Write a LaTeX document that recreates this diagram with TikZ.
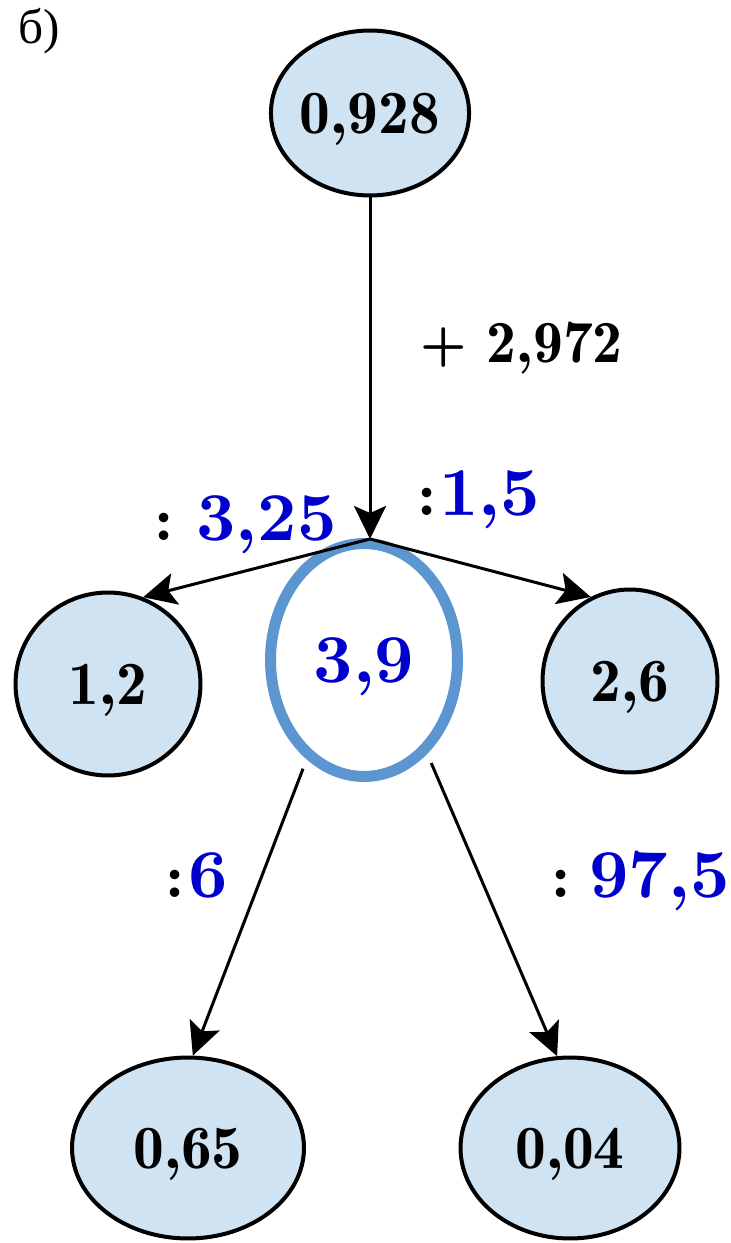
\documentclass[tikz,border=0pt]{standalone}
\usepackage{fontspec}
\usetikzlibrary{shapes.geometric,arrows.meta}
\newfontfamily\cyrfont{Liberation Serif}
\newfontfamily\demifont{lmromandemi10-regular.otf}
\newfontfamily\heavyfont{lmroman10-bold.otf}
\definecolor{nodefill}{RGB}{208,227,243}
\definecolor{ringblue}{RGB}{92,150,208}
\definecolor{labelblue}{RGB}{0,0,205}
\newcommand{\colonmark}{{\color{black}\demifont\fontsize{35}{40}\selectfont :}}
\begin{document}
\begin{tikzpicture}[x=0.02cm,y=-0.02cm,
  valnode/.style={ellipse, draw=black, line width=0.08cm, fill=nodefill, inner sep=0pt,
    text depth=0pt, font=\demifont\fontsize{35}{40}\selectfont},
  ring/.style={ellipse, draw=ringblue, line width=0.22cm, fill=white, inner sep=0pt,
    text depth=0pt, text=labelblue, font=\heavyfont\fontsize{39}{44}\selectfont},
  conn/.style={line width=0.06cm, -{Stealth[length=0.66cm,width=0.64cm,inset=0.14cm]}},
  lbl/.style={anchor=base west, inner sep=0pt, text=labelblue, font=\heavyfont\fontsize{39}{44}\selectfont},
  oplbl/.style={anchor=base west, inner sep=0pt, font=\demifont\fontsize{34}{40}\selectfont},
]
\useasboundingbox (0,0) rectangle (730,1243);
\node[anchor=base west, inner sep=0pt, font=\cyrfont\fontsize{28}{32}\selectfont] (title) at (18,44) {б)};

\node[valnode, minimum width=3.82cm, minimum height=3.30cm] (top) at (370,113) {0,928};
\node[valnode, minimum width=3.70cm, minimum height=3.66cm] (n12) at (108,684) {1,2};
\node[valnode, minimum width=3.50cm, minimum height=3.66cm] (n26) at (630,681) {2,6};
\node[ring, minimum width=3.74cm, minimum height=4.66cm] (n39) at (364,660) {3,9};
\node[valnode, minimum width=4.64cm, minimum height=3.62cm] (n065) at (188,1148) {0,65};
\node[valnode, minimum width=4.38cm, minimum height=3.62cm] (n004) at (570,1148) {0,04};

\coordinate (J) at (370,539);
\draw[conn] (top) -- (J);
\draw[conn] (J) -- (n12.68);
\draw[conn] (J) -- (n26.115);
\draw[conn, shorten <=0.2cm] (n39.240) -- (n065.87);
\draw[conn, shorten <=0.2cm] (n39.304) -- (n004.98);

\node[oplbl] (addlbl) at (420,362) {+ 2,972};
\node[lbl] (d325) at (155,540) {\colonmark\hspace{0.48cm}3,25};
\node[lbl] (d15) at (418,515) {\colonmark\hspace{0.08cm}1,5};
\node[lbl] (d6) at (166,897) {\colonmark\hspace{0.1cm}6};
\node[lbl] (d975) at (552,897) {\colonmark\hspace{0.4cm}97,5};
\end{tikzpicture}
\end{document}
